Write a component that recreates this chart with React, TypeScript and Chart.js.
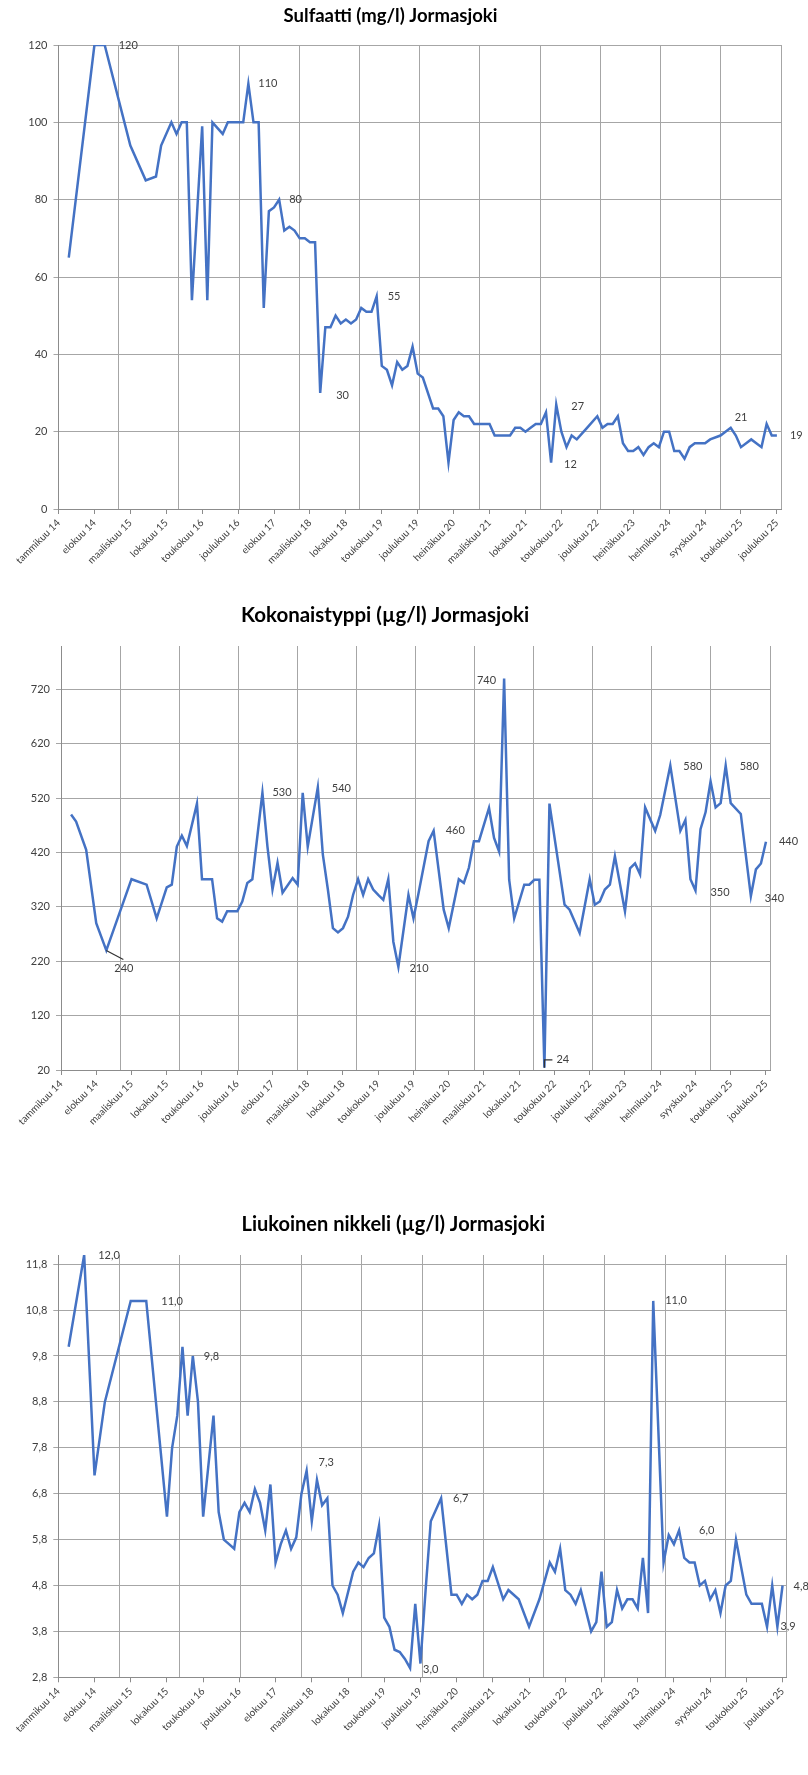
import React, { useEffect, useRef } from 'react';
import { Chart, registerables } from 'chart.js';

Chart.register(...registerables);
Chart.defaults.font.family = 'Lato, "Open Sans", sans-serif';

// ---- shared axis data ----
const tickLabels = [
  'tammikuu 14', 'elokuu 14', 'maaliskuu 15', 'lokakuu 15', 'toukokuu 16', 'joulukuu 16',
  'elokuu 17', 'maaliskuu 18', 'lokakuu 18', 'toukokuu 19', 'joulukuu 19', 'heinäkuu 20',
  'maaliskuu 21', 'lokakuu 21', 'toukokuu 22', 'joulukuu 22', 'heinäkuu 23', 'helmikuu 24',
  'syyskuu 24', 'toukokuu 25', 'joulukuu 25',
];
const tickPositions = [0, 7, 14, 21, 28, 35, 42, 49, 56, 63, 70, 77, 84, 91, 98, 105, 112, 119, 126, 133, 140];
const gridPositions = [0, 1, 2, 3, 4, 5, 6, 7, 8, 9, 10, 11, 12];
const sampleAxisMax = 140.8;

// ---- Sulfaatti (mg/l) ----
const sulfaattiX = [2, 7, 9, 14, 17, 19, 20, 22, 23, 24, 25, 26, 28, 29, 30, 32, 33, 36, 37, 38, 39, 40, 41, 42, 43, 44, 45, 46, 47, 48, 49, 50, 51, 52, 53, 54, 55, 56, 57, 58, 59, 60, 61, 62, 63, 64, 65, 66, 67, 68, 69, 70, 71, 73, 74, 75, 76, 77, 78, 79, 80, 81, 84, 85, 88, 89, 90, 91, 92, 93, 94, 95, 96, 97, 98, 99, 100, 101, 103, 105, 106, 107, 108, 109, 110, 111, 112, 113, 114, 115, 116, 117, 118, 119, 120, 121, 122, 123, 124, 126, 127, 129, 131, 132, 133, 135, 137, 138, 139, 140];
const sulfaattiY = [65, 120, 120, 94, 85, 86, 94, 100, 97, 100, 100, 54, 99, 54, 100, 97, 100, 100, 110, 100, 100, 52, 77, 78, 80, 72, 73, 72, 70, 70, 69, 69, 30, 47, 47, 50, 48, 49, 48, 49, 52, 51, 51, 55, 37, 36, 32, 38, 36, 37, 42, 35, 34, 26, 26, 24, 12, 23, 25, 24, 24, 22, 22, 19, 19, 21, 21, 20, 21, 22, 22, 25, 12, 27, 20, 16, 19, 18, 21, 24, 21, 22, 22, 24, 17, 15, 15, 16, 14, 16, 17, 16, 20, 20, 15, 15, 13, 16, 17, 17, 18, 19, 21, 19, 16, 18, 16, 22, 19, 19];
const sulfaattiTicks = [0, 20, 40, 60, 80, 100, 120];
const sulfaattiLabelAt = [9, 37, 43, 62, 51, 97, 96, 131, 140];
const sulfaattiLabelOffset = [[14, 0], [10, 0], [10, 0], [11, 0], [16, 2], [15, 2], [13, 2], [4, -10], [13, 0]];

// ---- Kokonaistyppi (µg/l) ----
const typpiX = [2, 3, 5, 7, 9, 14, 17, 19, 21, 22, 23, 24, 25, 27, 28, 30, 31, 32, 33, 35, 36, 37, 38, 40, 41, 42, 43, 44, 46, 47, 48, 49, 51, 52, 53, 54, 55, 56, 57, 58, 59, 60, 61, 62, 63, 64, 65, 66, 67, 69, 70, 71, 73, 74, 76, 77, 79, 80, 81, 82, 83, 85, 86, 87, 88, 89, 90, 92, 93, 94, 95, 96, 97, 100, 101, 103, 105, 106, 107, 108, 109, 110, 112, 113, 114, 115, 116, 118, 119, 121, 123, 124, 125, 126, 127, 128, 129, 130, 131, 132, 133, 135, 137, 138, 139, 140];
const typpiY = [490, 477, 425, 290, 240, 371, 361, 299, 356, 361, 431, 451, 432, 510, 371, 371, 299, 293, 312, 312, 330, 364, 371, 530, 431, 352, 401, 346, 373, 361, 530, 431, 540, 416, 352, 281, 273, 281, 302, 342, 371, 342, 371, 352, 342, 333, 371, 256, 210, 342, 299, 345, 441, 460, 315, 281, 371, 364, 392, 441, 441, 502, 447, 422, 740, 370, 299, 361, 361, 370, 370, 24, 510, 324, 315, 272, 371, 324, 330, 352, 361, 413, 312, 391, 400, 380, 503, 460, 489, 580, 460, 480, 371, 350, 463, 494, 551, 503, 511, 580, 511, 491, 340, 389, 400, 440];
const typpiTicks = [20, 120, 220, 320, 420, 520, 620, 720];
const typpiLabelAt = [9, 40, 51, 67, 74, 88, 96, 121, 126, 132, 137, 140];
const typpiLabelOffset = [[8, 18], [10, 0], [14, 1], [11, 2], [12, 0], [-8, 2], [12, -8], [13, 1], [15, 2], [14, 1], [14, 2], [13, 0]];

// ---- Liukoinen nikkeli (µg/l) ----
const nikkeliX = [2, 5, 7, 9, 14, 17, 21, 22, 23, 24, 25, 26, 27, 28, 29, 30, 31, 32, 33, 34, 35, 36, 37, 38, 39, 40, 41, 42, 43, 44, 45, 46, 47, 48, 49, 50, 51, 52, 53, 54, 55, 57, 58, 59, 60, 61, 62, 63, 64, 65, 66, 67, 68, 69, 70, 71, 72, 74, 76, 77, 78, 79, 80, 81, 82, 83, 84, 86, 87, 89, 91, 93, 95, 96, 97, 98, 99, 100, 101, 103, 104, 105, 106, 107, 108, 109, 110, 111, 112, 113, 114, 115, 117, 118, 119, 120, 121, 122, 123, 124, 125, 126, 127, 128, 129, 130, 131, 133, 134, 135, 136, 137, 138, 139, 140];
const nikkeliY = [10.0, 12.0, 7.2, 8.8, 11.0, 11.0, 6.3, 7.8, 8.5, 10.0, 8.5, 9.8, 8.8, 6.3, 7.4, 8.5, 6.4, 5.8, 5.7, 5.6, 6.4, 6.6, 6.4, 6.9, 6.6, 6.0, 7.0, 5.3, 5.7, 6.0, 5.6, 5.85, 6.8, 7.3, 6.2, 7.1, 6.55, 6.7, 4.8, 4.6, 4.2, 5.1, 5.3, 5.2, 5.4, 5.5, 6.1, 4.1, 3.9, 3.4, 3.35, 3.2, 3.0, 4.4, 3.1, 4.7, 6.2, 6.7, 4.6, 4.6, 4.4, 4.6, 4.5, 4.6, 4.9, 4.9, 5.2, 4.5, 4.7, 4.5, 3.9, 4.5, 5.3, 5.1, 5.6, 4.7, 4.6, 4.4, 4.7, 3.8, 4.0, 5.1, 3.9, 4.0, 4.7, 4.3, 4.5, 4.5, 4.3, 5.4, 4.2, 11.0, 5.3, 5.9, 5.7, 6.0, 5.4, 5.3, 5.3, 4.8, 4.9, 4.5, 4.7, 4.2, 4.8, 4.9, 5.8, 4.6, 4.4, 4.4, 4.4, 3.9, 4.8, 3.9, 4.8];
const nikkeliTicks = [2.8, 3.8, 4.8, 5.8, 6.8, 7.8, 8.8, 9.8, 10.8, 11.8];
const nikkeliLabelAt = [5, 17, 26, 48, 68, 74, 115, 120, 139, 140];
const nikkeliLabelOffset = [[14, 0], [15, 1], [11, 0], [12, -8], [13, 1], [12, 0], [12, 0], [20, 0], [3, 0], [11, 1]];

type Spec = {
  title: string;
  titleSize: number;
  xs: number[];
  ys: number[];
  yMin: number;
  yMax: number;
  yTicks: number[];
  fmt: (v: number) => string;
  labelAt: number[];
  labelOffset: number[][];
  leaders?: Record<number, number[][]>;
  height: number;
  leftWidth: number;
  rightPad: number;
  titleTop: number;
  titleBottom: number;
  bottomHeight: number;
};

const fmtInt = (v: number) => String(Math.round(v));
const fmtComma = (v: number) => v.toFixed(1).replace('.', ',');

const specs: Spec[] = [
  {
    title: 'Sulfaatti (mg/l) Jormasjoki', titleSize: 18.5,
    xs: sulfaattiX, ys: sulfaattiY, yMin: 0, yMax: 120, yTicks: sulfaattiTicks, fmt: fmtInt,
    labelAt: sulfaattiLabelAt, labelOffset: sulfaattiLabelOffset,
    height: 590, leftWidth: 58.5, rightPad: 27, titleTop: 4.9, titleBottom: 17.9, bottomHeight: 81,
  },
  {
    title: 'Kokonaistyppi (µg/l) Jormasjoki', titleSize: 20.5,
    xs: typpiX, ys: typpiY, yMin: 20, yMax: 800, yTicks: typpiTicks, fmt: fmtInt,
    labelAt: typpiLabelAt, labelOffset: typpiLabelOffset,
    leaders: { 9: [[0, 0], [17, 9]], 96: [[0, 0], [0, -8], [8, -8]] },
    height: 600, leftWidth: 61, rightPad: 38, titleTop: 12.7, titleBottom: 18.7, bottomHeight: 120,
  },
  {
    title: 'Liukoinen nikkeli (µg/l) Jormasjoki', titleSize: 20,
    xs: nikkeliX, ys: nikkeliY, yMin: 2.8, yMax: 12.0, yTicks: nikkeliTicks, fmt: fmtComma,
    labelAt: nikkeliLabelAt, labelOffset: nikkeliLabelOffset,
    height: 585, leftWidth: 58.3, rightPad: 21.3, titleTop: 23, titleBottom: 18, bottomHeight: 97.7,
  },
];

const GRID = '#a6a6a6';
const AXIS = '#8c8c8c';
const TEXT = '#404040';

function makeLabelPlugin(spec: Spec) {
  return {
    id: 'valueLabels',
    afterDatasetsDraw(chart: any) {
      const ctx = chart.ctx;
      const meta = chart.getDatasetMeta(0);
      ctx.save();
      ctx.font = '11px Lato, "Open Sans", sans-serif';
      ctx.fillStyle = TEXT;
      ctx.textBaseline = 'middle';
      spec.labelAt.forEach((xv, i) => {
        const k = spec.xs.indexOf(xv);
        if (k < 0) return;
        const el = meta.data[k];
        const [dx, dy] = spec.labelOffset[i];
        const text = spec.fmt(spec.ys[k]);
        ctx.textAlign = dx < 0 ? 'right' : 'left';
        ctx.fillText(text, el.x + dx, el.y + dy);
        const leader = spec.leaders && spec.leaders[xv];
        if (leader) {
          ctx.strokeStyle = '#333333';
          ctx.lineWidth = 1.2;
          ctx.beginPath();
          leader.forEach(([lx, ly], j) => {
            if (j === 0) ctx.moveTo(el.x + lx, el.y + ly);
            else ctx.lineTo(el.x + lx, el.y + ly);
          });
          ctx.stroke();
        }
      });
      ctx.restore();
    },
  };
}

function buildConfig(spec: Spec): any {
  const data = spec.xs.map((x, i) => ({ x, y: spec.ys[i] }));
  return {
    type: 'line',
    data: {
      datasets: [
        {
          data,
          borderColor: '#4472C4',
          backgroundColor: '#4472C4',
          borderWidth: 2.5,
          pointRadius: 0,
          tension: 0,
          xAxisID: 'x',
          yAxisID: 'y',
        },
      ],
    },
    options: {
      responsive: false,
      animation: false,
      devicePixelRatio: 1,
      layout: { padding: { left: 0, right: spec.rightPad, top: 0, bottom: 0 } },
      plugins: {
        legend: { display: false },
        tooltip: { enabled: false },
        title: {
          display: true,
          text: spec.title,
          color: '#000000',
          font: { size: spec.titleSize, weight: 'bold', family: 'Lato, "Open Sans", sans-serif', lineHeight: 1.2 },
          padding: { top: spec.titleTop, bottom: spec.titleBottom },
        },
      },
      scales: {
        x: {
          type: 'linear',
          position: 'bottom',
          min: 0,
          max: sampleAxisMax,
          afterBuildTicks: (axis: any) => {
            axis.ticks = tickPositions.map((v) => ({ value: v }));
          },
          afterFit: (axis: any) => {
            axis.height = spec.bottomHeight;
          },
          ticks: {
            autoSkip: false,
            minRotation: 45,
            maxRotation: 45,
            padding: 3,
            color: TEXT,
            font: { size: 10 },
            callback: (_v: any, i: number) => tickLabels[i],
          },
          grid: { drawOnChartArea: false, drawTicks: true, tickLength: 5, tickColor: AXIS },
          border: { display: true, color: AXIS, width: 1 },
        },
        x2: {
          type: 'linear',
          position: 'bottom',
          min: 0,
          max: 12,
          afterBuildTicks: (axis: any) => {
            axis.ticks = gridPositions.map((v) => ({ value: v }));
          },
          afterFit: (axis: any) => {
            axis.height = 0;
          },
          ticks: { display: false },
          grid: { drawOnChartArea: true, drawTicks: false, color: GRID, lineWidth: 1 },
          border: { display: false },
        },
        y: {
          type: 'linear',
          min: spec.yMin,
          max: spec.yMax,
          afterBuildTicks: (axis: any) => {
            axis.ticks = spec.yTicks.map((v) => ({ value: v }));
          },
          afterFit: (axis: any) => {
            axis.width = spec.leftWidth;
          },
          ticks: {
            color: TEXT,
            font: { size: 11 },
            padding: 6,
            callback: (v: any) => spec.fmt(Number(v)),
          },
          grid: { color: GRID, lineWidth: 1, drawTicks: true, tickLength: 5, tickColor: GRID },
          border: { display: true, color: AXIS, width: 1 },
        },
      },
    },
    plugins: [makeLabelPlugin(spec)],
  };
}

function LineChart({ spec, top }: { spec: Spec; top: number }) {
  const ref = useRef<HTMLCanvasElement | null>(null);
  useEffect(() => {
    if (!ref.current) return;
    const chart = new Chart(ref.current, buildConfig(spec));
    return () => chart.destroy();
  }, [spec]);
  return (
    <canvas
      ref={ref}
      width={808}
      height={spec.height}
      style={{ position: 'absolute', left: 0, top, width: 808, height: spec.height, display: 'block' }}
    />
  );
}

export default function App() {
  const tops = [0, 590, 1190];
  return (
    <div style={{ position: 'absolute', left: 0, top: 0, width: 808, height: 1775, background: '#ffffff', overflow: 'hidden' }}>
      {specs.map((s, i) => (
        <LineChart key={i} spec={s} top={tops[i]} />
      ))}
    </div>
  );
}
